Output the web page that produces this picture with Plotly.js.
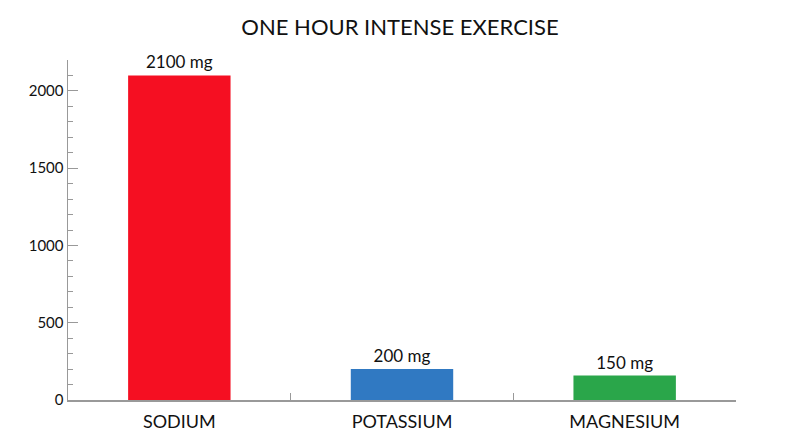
<!DOCTYPE html>
<html>
<head>
<meta charset="utf-8">
<script src="https://cdn.plot.ly/plotly-3.0.1.min.js"></script>
<style>
  html, body { margin: 0; padding: 0; background: #fff; }
  #chart { width: 800px; height: 447px; }
</style>
</head>
<body>
<div id="chart"></div>
<script>
// electrolytes lost in one hour of intense exercise
const minerals = ["SODIUM", "POTASSIUM", "MAGNESIUM"];
const amounts = [2100, 200, 158];
const amountLabels = ["2100 mg", "200 mg", "150 mg"];
const barColors = ["#F50F22", "#3079C2", "#2AA64A"];

const trace = {
  type: "bar",
  x: minerals,
  y: amounts,
  text: amountLabels,
  textposition: "outside",
  cliponaxis: false,
  textfont: { family: "Lato, sans-serif", size: 17, color: "#111" },
  marker: { color: barColors },
  hoverinfo: "skip",
};

const layout = {
  width: 800,
  height: 447,
  margin: { l: 68, r: 64, t: 60, b: 47 },
  paper_bgcolor: "#fff",
  plot_bgcolor: "#fff",
  bargap: 0.54,
  showlegend: false,
  font: { family: "Lato, sans-serif", color: "#111" },
  title: {
    text: "ONE HOUR INTENSE EXERCISE",
    font: { family: "Lato, sans-serif", size: 22, color: "#111" },
    x: 0.5,
    xanchor: "center",
    y: 0.94,
    yanchor: "middle",
  },
  xaxis: {
    showline: true,
    linecolor: "#999",
    linewidth: 1.5,
    ticks: "inside",
    tickson: "boundaries",
    ticklen: 7,
    tickcolor: "#999",
    tickfont: { size: 18, color: "#111" },
    ticklabelstandoff: 5,
    showgrid: false,
    zeroline: false,
  },
  yaxis: {
    range: [0, 2200],
    showline: true,
    linecolor: "#999",
    linewidth: 1.5,
    ticks: "inside",
    ticklen: 10,
    tickcolor: "#999",
    dtick: 500,
    tickfont: { size: 15, color: "#111" },
    showgrid: false,
    zeroline: false,
    minor: { dtick: 100, ticks: "inside", ticklen: 5, tickcolor: "#999", showgrid: false },
  },
};

Plotly.newPlot("chart", [trace], layout, { displayModeBar: false, staticPlot: true });
</script>
</body>
</html>
